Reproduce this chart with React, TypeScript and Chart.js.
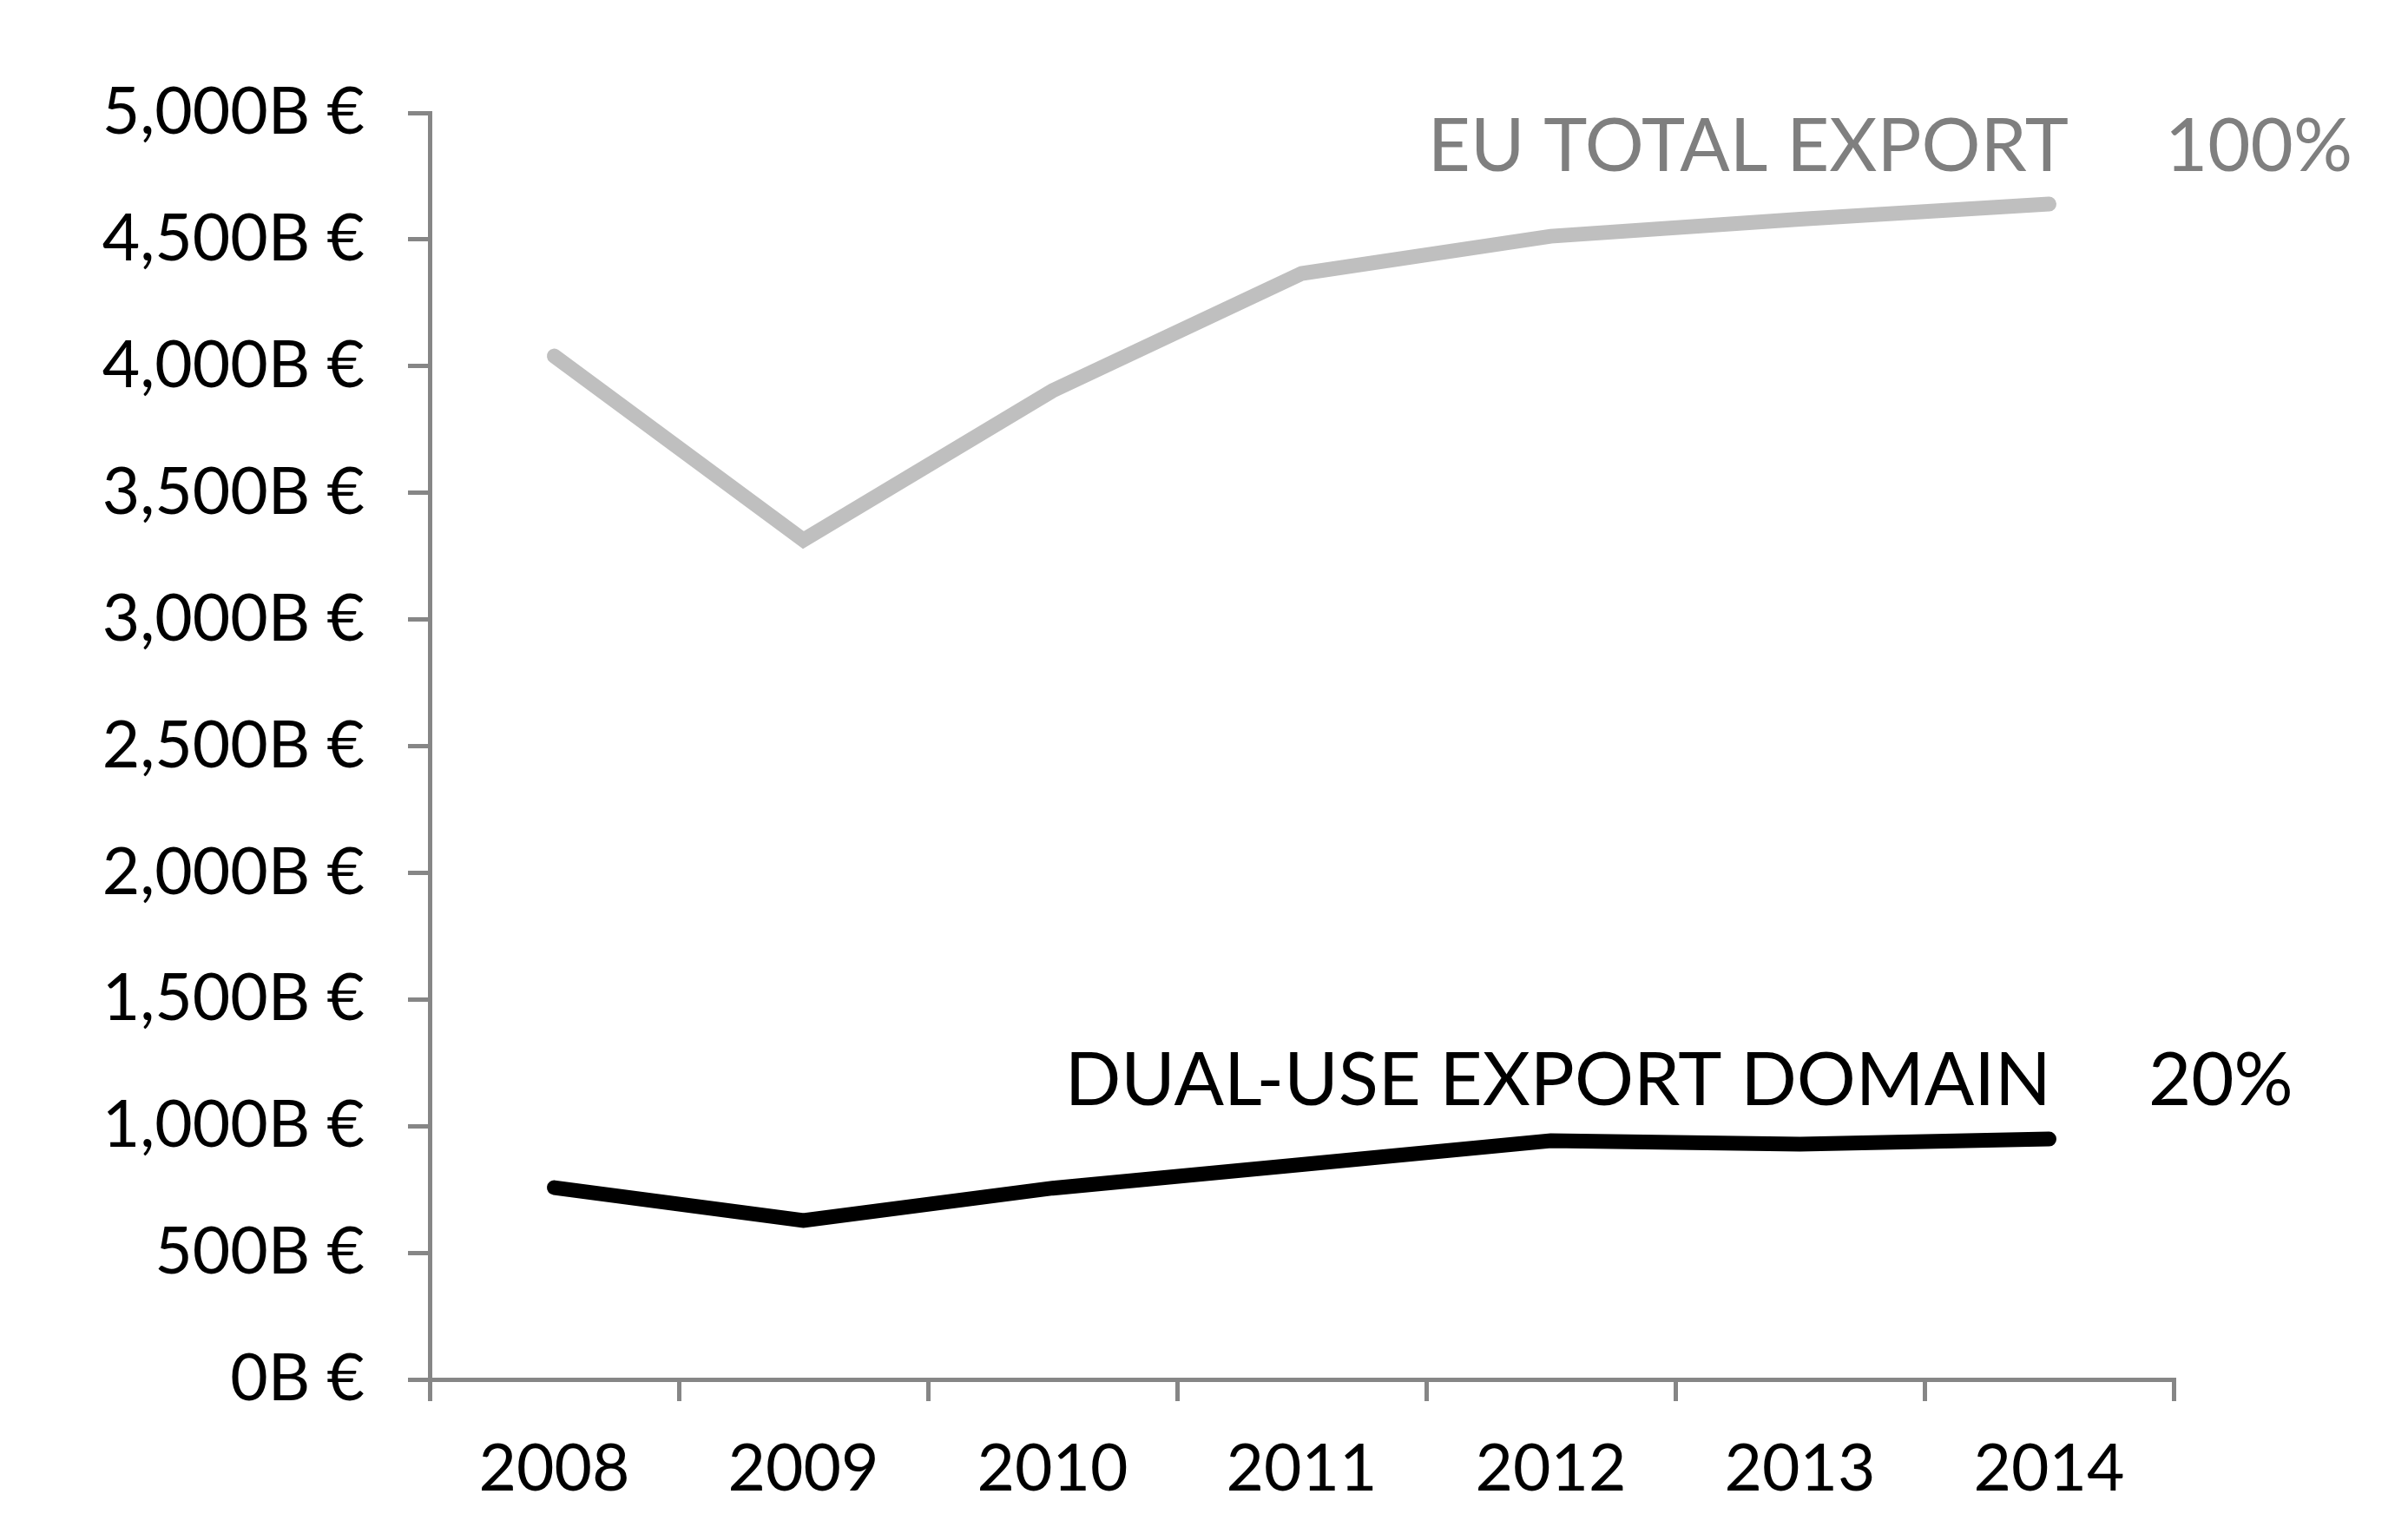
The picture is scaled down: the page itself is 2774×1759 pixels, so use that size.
import { useEffect, useRef } from "react";
import { Chart, registerables } from "chart.js";

Chart.register(...registerables);

const years = ["2008", "2009", "2010", "2011", "2012", "2013", "2014"];
const euTotalExport = [4040, 3314, 3903, 4366, 4513, 4580, 4640];
const dualUseExport = [757, 627, 755, 848, 942, 929, 949];
const yTicks = [0, 500, 1000, 1500, 2000, 2500, 3000, 3500, 4000, 4500, 5000];

const seriesLabels = [
  { name: "EU TOTAL EXPORT", share: "100%", color: "#7f7f7f" },
  { name: "DUAL-USE EXPORT DOMAIN", share: "20%", color: "#000000" },
];

const FONT = "Lato, 'Open Sans', sans-serif";
const AXIS_COLOR = "#868686";

// text labels drawn next to the end of each line
const endLabels = {
  id: "endLabels",
  afterDatasetsDraw(chart: Chart) {
    const { ctx, chartArea } = chart;
    const spots = [
      { nameRight: chartArea.right - 121, shareLeft: chartArea.right - 10, baseline: chartArea.top + 67 },
      { nameRight: chartArea.right - 141, shareLeft: chartArea.right - 29, baseline: chartArea.top + 1143 },
    ];
    ctx.save();
    ctx.font = `85px ${FONT}`;
    ctx.textBaseline = "alphabetic";
    seriesLabels.forEach((s, i) => {
      const p = spots[i];
      ctx.fillStyle = s.color;
      ctx.textAlign = "right";
      ctx.fillText(s.name, p.nameRight, p.baseline);
      ctx.textAlign = "left";
      ctx.fillText(s.share, p.shareLeft, p.baseline);
    });
    ctx.restore();
  },
};

export default function App() {
  const canvasRef = useRef<HTMLCanvasElement>(null);
  const chartRef = useRef<Chart | null>(null);

  useEffect(() => {
    if (!canvasRef.current) return;
    const ctx = canvasRef.current.getContext("2d");
    if (!ctx) return;

    if (chartRef.current) {
      chartRef.current.destroy();
      chartRef.current = null;
    }

    chartRef.current = new Chart(ctx, {
      type: "line",
      data: {
        labels: years,
        datasets: [
          {
            label: seriesLabels[0].name,
            data: euTotalExport,
            borderColor: "#bfbfbf",
            borderWidth: 17,
            borderCapStyle: "round",
            borderJoinStyle: "miter",
            pointRadius: 0,
            tension: 0,
            fill: false,
          },
          {
            label: seriesLabels[1].name,
            data: dualUseExport,
            borderColor: "#000000",
            borderWidth: 17,
            borderCapStyle: "round",
            borderJoinStyle: "miter",
            pointRadius: 0,
            tension: 0,
            fill: false,
          },
        ],
      },
      options: {
        responsive: false,
        animation: false,
        devicePixelRatio: 1,
        layout: { padding: { left: 0, top: 130, right: 270, bottom: 0 } },
        plugins: {
          legend: { display: false },
          tooltip: { enabled: false },
        },
        scales: {
          x: {
            offset: true,
            grid: {
              offset: true,
              drawOnChartArea: false,
              drawTicks: true,
              tickLength: 25,
              color: AXIS_COLOR,
              lineWidth: 5,
            },
            border: { display: true, color: AXIS_COLOR, width: 5 },
            ticks: {
              color: "#000000",
              font: { family: FONT, size: 75 },
              padding: 34,
              maxRotation: 0,
            },
            afterFit: (scale) => {
              scale.height = 170;
            },
          },
          y: {
            min: 0,
            max: 5000,
            afterBuildTicks: (scale) => {
              scale.ticks = yTicks.map((v) => ({ value: v }));
            },
            grid: {
              drawOnChartArea: false,
              drawTicks: true,
              tickLength: 25,
              color: AXIS_COLOR,
              lineWidth: 5,
            },
            border: { display: true, color: AXIS_COLOR, width: 5 },
            ticks: {
              color: "#000000",
              font: { family: FONT, size: 75 },
              padding: 50,
              callback: (v) => `${Number(v).toLocaleString("en-US")}B €`,
            },
            afterFit: (scale) => {
              scale.width = 495;
            },
          },
        },
      },
      plugins: [endLabels],
    });

    return () => {
      chartRef.current?.destroy();
      chartRef.current = null;
    };
  }, []);

  return (
    <div style={{ position: "absolute", left: 0, top: 0, width: 2774, height: 1759, background: "#ffffff" }}>
      <canvas ref={canvasRef} width={2774} height={1759} style={{ display: "block" }} />
    </div>
  );
}
